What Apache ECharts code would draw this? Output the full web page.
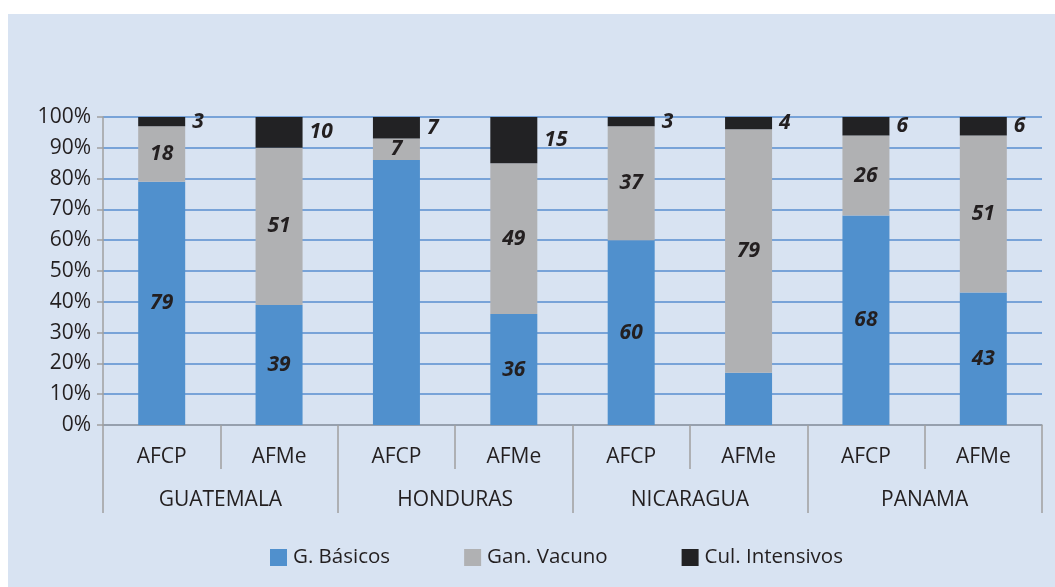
<!DOCTYPE html>
<html>
<head>
<meta charset="utf-8">
<script src="https://cdn.jsdelivr.net/npm/echarts@6/dist/echarts.min.js"></script>
<style>
html,body{margin:0;padding:0;background:#fff;}
#c{width:1055px;height:587px;}
</style>
</head>
<body>
<div id="c"></div>
<script>
const groups = ['AFCP','AFMe','AFCP','AFMe','AFCP','AFMe','AFCP','AFMe'];
const countries = ['GUATEMALA','HONDURAS','NICARAGUA','PANAMA'];
const seriesNames = ['G. Básicos','Gan. Vacuno','Cul. Intensivos'];
const basicos = [79, 39, 86, 36, 60, 17, 68, 43];
const vacuno = [18, 51, 7, 49, 37, 79, 26, 51];
const intensivos = [3, 10, 7, 15, 3, 4, 6, 6];
const showBasicosLabel = [true, true, false, true, true, false, true, true];

const FONT = '"Open Sans", sans-serif';
const TXT = '#231f20';
const labelStyle = {fontFamily: FONT, fontSize: 21, fontWeight: 'bold', fontStyle: 'italic', color: TXT};

const chart = echarts.init(document.getElementById('c'));
chart.setOption({
  animation: false,
  backgroundColor: '#ffffff',
  textStyle: {fontFamily: FONT},
  graphic: [{type: 'rect', left: 8, top: 14, z: -10, shape: {width: 1047, height: 573}, style: {fill: '#d8e3f2'}}],
  grid: {left: 103, right: 13, top: 117, bottom: 162, containLabel: false},
  legend: {
    left: 265, top: 542, itemWidth: 17, itemHeight: 17, itemGap: 74,
    icon: 'rect',
    textStyle: {fontFamily: FONT, fontSize: 20.5, color: TXT, padding: [0,0,0,1]},
    data: seriesNames
  },
  xAxis: [{
    type: 'category', data: groups, position: 'bottom',
    axisLine: {show: true, lineStyle: {color: '#a0a0a0', width: 1.5}},
    axisTick: {show: true, interval: 0, length: 44, lineStyle: {color: '#a0a0a0', width: 1.5}},
    axisLabel: {interval: 0, margin: 22, fontFamily: FONT, fontSize: 21, color: TXT},
    splitLine: {show: false}
  }, {
    type: 'category', data: countries, position: 'bottom',
    axisLine: {show: false},
    axisTick: {show: true, interval: 0, length: 88, lineStyle: {color: '#a0a0a0', width: 1.5}},
    axisLabel: {interval: 0, margin: 65, fontFamily: FONT, fontSize: 21, color: TXT},
    splitLine: {show: false}
  }],
  yAxis: {
    type: 'value', min: 0, max: 100, interval: 10,
    axisLine: {show: true, lineStyle: {color: '#a0a0a0', width: 1.5}},
    axisTick: {show: true, length: 6, lineStyle: {color: '#a0a0a0', width: 1.5}},
    axisLabel: {formatter: '{value}%', margin: 12, fontFamily: FONT, fontSize: 21, color: TXT},
    splitLine: {show: true, lineStyle: {color: '#78a3d8', width: 2}}
  },
  series: [{
    name: seriesNames[0], type: 'bar', stack: 's', barWidth: 47, xAxisIndex: 0,
    itemStyle: {color: '#5090cd'},
    label: Object.assign({show: true, position: 'inside'}, labelStyle),
    data: basicos.map((v, i) => ({value: v, label: {show: showBasicosLabel[i]}}))
  }, {
    name: seriesNames[1], type: 'bar', stack: 's', barWidth: 47, xAxisIndex: 0,
    itemStyle: {color: '#b0b1b3'},
    label: Object.assign({show: true, position: 'inside'}, labelStyle),
    data: vacuno
  }, {
    name: seriesNames[2], type: 'bar', stack: 's', barWidth: 47, xAxisIndex: 0,
    itemStyle: {color: '#222224'},
    label: Object.assign({show: true, position: 'right', distance: 7}, labelStyle),
    data: intensivos
  }]
});
</script>
</body>
</html>
